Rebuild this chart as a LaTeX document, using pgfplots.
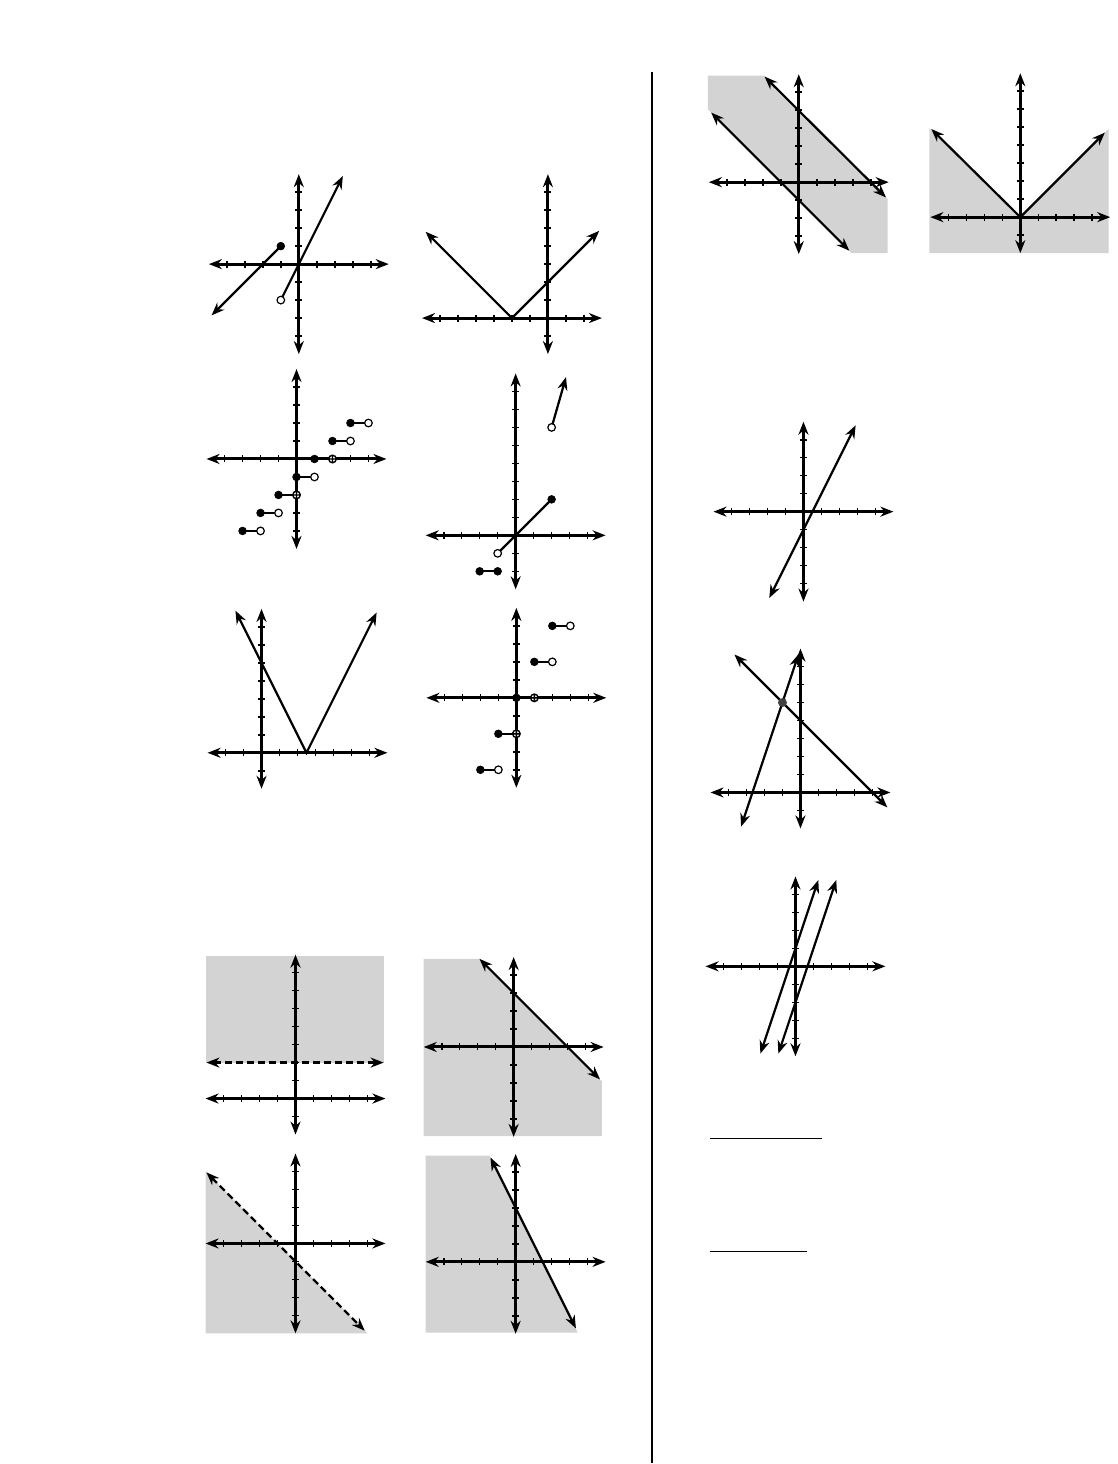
\documentclass[border=0pt]{standalone}
\usepackage{pgfplots}
\pgfplotsset{compat=1.18}
\usetikzlibrary{arrows.meta,plotmarks}
\definecolor{shade}{RGB}{211,211,211}
\pgfplotsset{
  gr/.style={axis lines=middle, x=9pt, y=9pt, anchor=origin, clip=false, axis on top,
    every inner x axis line/.append style={<->},
    every inner y axis line/.append style={<->},
    axis line style={line width=1.5pt, black},
    tick align=center, major tick length=3.5pt,
    tick style={line width=0.8pt, black},
    xticklabels={}, yticklabels={},
    xtick={-4,-3,-2,-1,1,2,3,4}, ytick={-4,-3,-2,-1,1,2,3,4},
    xmin=-5,xmax=5,ymin=-5,ymax=5},
  fn/.style={line width=1.1pt, black, no markers},
  dsh/.style={line width=1.1pt, black, no markers, dash pattern=on 3.5pt off 2pt},
  sh/.style={fill=shade, draw=none, no markers},
}
\newcommand\seg[4]{\addplot[fn] coordinates {(#1,#2) (#3,#4)};}
\newcommand\cdt[2]{\addplot[only marks, mark=*, mark size=1.9pt, mark options={fill=black,draw=black}] coordinates {(#1,#2)};}
\newcommand\odt[2]{\addplot[only marks, mark=*, mark size=1.9pt, mark options={fill=white,draw=black,line width=0.6pt}] coordinates {(#1,#2)};}
\newcommand\pdt[2]{\addplot[only marks, mark=oplus*, mark size=1.9pt, mark options={fill=white,draw=black,line width=0.7pt}] coordinates {(#1,#2)};}
\begin{document}
\begin{tikzpicture}[>={Stealth[length=6.5pt,width=5pt]}]
\begin{scope}[x=0.5pt,y=-0.5pt]
\path (0,0) rectangle (1118,1464);
\coordinate (o1) at (299,264.3);
\coordinate (o2) at (548.3,318.3);
\coordinate (o3) at (296.7,459.3);
\coordinate (o4) at (516,535.7);
\coordinate (o5) at (261.7,753.3);
\coordinate (o6) at (516.7,698.3);
\coordinate (o7) at (295.7,1099.3);
\coordinate (o8) at (514,1047.7);
\coordinate (o9) at (295.7,1244.3);
\coordinate (o10) at (516,1262.7);
\coordinate (o11) at (799.3,182.3);
\coordinate (o12) at (1021,217.3);
\coordinate (o13) at (804,512);
\coordinate (o14) at (801,793);
\coordinate (o15) at (796,967);
\draw[line width=1pt] (652,72) -- (652,1464);
\draw[line width=0.6pt] (710,1139) -- (823,1139);
\draw[line width=0.6pt] (710,1252) -- (808,1252);
\end{scope}

% G1
\begin{axis}[gr, at={(o1)}]
\addplot[fn,<-] coordinates {(-4.85,-2.85) (-1,1)};
\addplot[fn,->] coordinates {(-1,-2) (2.45,4.9)};
\cdt{-1}{1} \odt{-1}{-2}
\end{axis}

% G2
\begin{axis}[gr, at={(o2)}, xmin=-7, xmax=3, ymin=-2, ymax=8,
  xtick={-6,-5,-4,-3,-2,-1,1,2}, ytick={-1,1,2,3,4,5,6,7}]
\addplot[fn,<->] coordinates {(-6.8,4.8) (-2,0) (2.85,4.85)};
\end{axis}

% G3
\begin{axis}[gr, at={(o3)}]
\seg{-3}{-4}{-2}{-4} \seg{-2}{-3}{-1}{-3} \seg{-1}{-2}{0}{-2} \seg{0}{-1}{1}{-1}
\seg{1}{0}{2}{0} \seg{2}{1}{3}{1} \seg{3}{2}{4}{2}
\cdt{-3}{-4} \cdt{-2}{-3} \cdt{-1}{-2} \cdt{0}{-1} \cdt{1}{0} \cdt{2}{1} \cdt{3}{2}
\odt{-2}{-4} \odt{-1}{-3} \pdt{0}{-2} \odt{1}{-1} \pdt{2}{0} \odt{3}{1} \odt{4}{2}
\end{axis}

% G4
\begin{axis}[gr, at={(o4)}, ymin=-3, ymax=9, ytick={-2,-1,1,2,3,4,5,6,7,8}]
\seg{-2}{-2}{-1}{-2}
\seg{-1}{-1}{2}{2}
\addplot[fn,->] coordinates {(2,6) (2.8,8.8)};
\cdt{-2}{-2} \cdt{-1}{-2} \odt{-1}{-1} \cdt{2}{2} \odt{2}{6}
\end{axis}

% G5
\begin{axis}[gr, at={(o5)}, xmin=-3, xmax=7, ymin=-2, ymax=8,
  xtick={-2,-1,1,2,3,4,5,6}, ytick={-1,1,2,3,4,5,6,7}]
\addplot[fn,<->] coordinates {(-1.45,7.9) (2.5,0) (6.4,7.8)};
\end{axis}

% G6
\begin{axis}[gr, at={(o6)}]
\seg{-2}{-4}{-1}{-4} \seg{-1}{-2}{0}{-2} \seg{0}{0}{1}{0} \seg{1}{2}{2}{2} \seg{2}{4}{3}{4}
\cdt{-2}{-4} \cdt{-1}{-2} \cdt{0}{0} \cdt{1}{2} \cdt{2}{4}
\odt{-1}{-4} \pdt{0}{-2} \pdt{1}{0} \odt{2}{2} \odt{3}{4}
\end{axis}

% G7
\begin{axis}[gr, at={(o7)}, ymin=-2, ymax=8, ytick={-1,1,2,3,4,5,6,7}]
\addplot[sh] coordinates {(-4.95,2) (4.9,2) (4.9,7.92) (-4.95,7.92)} -- cycle;
\addplot[dsh,<->] coordinates {(-4.95,2) (4.9,2)};
\end{axis}

% G8
\begin{axis}[gr, at={(o8)}]
\addplot[sh] coordinates {(-5,-4.95) (-5,4.9) (-1.9,4.9) (4.9,-1.9) (4.9,-4.95)} -- cycle;
\addplot[fn,<->] coordinates {(-1.9,4.9) (4.8,-1.8)};
\end{axis}

% G9
\begin{axis}[gr, at={(o9)}]
\addplot[sh] coordinates {(-5,4) (4,-5) (-5,-5)} -- cycle;
\addplot[dsh,<->] coordinates {(-4.95,3.95) (3.85,-4.85)};
\end{axis}

% G10
\begin{axis}[gr, at={(o10)}, ymin=-4, ymax=6, ytick={-3,-2,-1,1,2,3,4,5}]
\addplot[sh] coordinates {(-5,5.9) (-1.45,5.9) (3.45,-3.93) (-5,-3.93)} -- cycle;
\addplot[fn,<->] coordinates {(-1.4,5.8) (3.35,-3.7)};
\end{axis}

% G11
\begin{axis}[gr, at={(o11)}, ymin=-4, ymax=6, ytick={-3,-2,-1,1,2,3,4,5}]
\addplot[sh] coordinates {(-5.05,5.92) (-1.92,5.92) (4.94,-0.94) (4.94,-3.94) (2.94,-3.94) (-5.05,4.05)} -- cycle;
\addplot[fn,<->] coordinates {(-1.9,5.87) (4.85,-0.85)};
\addplot[fn,<->] coordinates {(-4.87,3.87) (2.81,-3.81)};
\end{axis}

% G12
\begin{axis}[gr, at={(o12)}, ymin=-2, ymax=8, ytick={-1,1,2,3,4,5,6,7}]
\addplot[sh] coordinates {(-5.06,4.95) (0,0) (4.91,4.91) (4.91,-2) (-5.06,-2)} -- cycle;
\addplot[fn,<->] coordinates {(-4.95,4.9) (0,0) (4.7,4.7)};
\end{axis}

% G13
\begin{axis}[gr, at={(o13)}]
\addplot[fn,<->] coordinates {(-1.9,-4.8) (2.9,4.8)};
\end{axis}

% G14
\begin{axis}[gr, at={(o14)}, ymin=-2, ymax=8, ytick={-1,1,2,3,4,5,6,7}]
\addplot[fn,<->] coordinates {(-3.67,7.67) (4.83,-0.83)};
\addplot[fn,<->] coordinates {(-3.3,-1.9) (-0.1,7.7)};
\addplot[only marks, mark=*, mark size=2pt, mark options={fill=black!75,draw=black!75}] coordinates {(-1,5)};
\end{axis}

% G15
\begin{axis}[gr, at={(o15)}]
\addplot[fn,<->] coordinates {(-1.95,-4.85) (1.27,4.8)};
\addplot[fn,<->] coordinates {(-0.95,-4.85) (2.27,4.8)};
\end{axis}
\end{tikzpicture}
\end{document}
